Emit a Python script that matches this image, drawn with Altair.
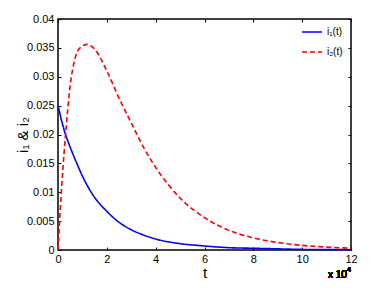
import altair as alt
import pandas as pd

# time in units of 1e4
t1 = [0, 0.25, 0.5, 0.75, 1, 1.5, 2, 2.5, 3, 3.5, 4, 5, 6, 7, 8, 9, 10, 11, 12]
i1 = [0.025, 0.0208, 0.0178, 0.0152, 0.0128, 0.0091, 0.0067, 0.0048, 0.0035,
      0.0026, 0.0019, 0.0011, 0.0007, 0.0004, 0.0003, 0.0002, 0.0001, 0.00007, 0.00005]

t2 = [0, 0.1, 0.2, 0.3, 0.5, 0.7, 0.9, 1.2, 1.5, 2, 2.5, 3, 3.5, 4, 4.5, 5, 6, 7,
      8, 9, 10, 11, 12]
i2 = [0, 0.0075, 0.014, 0.0195, 0.0285, 0.0332, 0.035, 0.0356, 0.0348, 0.031,
      0.0263, 0.022, 0.0178, 0.0143, 0.0114, 0.009, 0.0056, 0.0034, 0.0021,
      0.0013, 0.0008, 0.0005, 0.0003]

series = ["i\u2081(t)", "i\u2082(t)"]
x_ticks = [0, 2, 4, 6, 8, 10, 12]
y_ticks = [0, 0.005, 0.01, 0.015, 0.02, 0.025, 0.03, 0.035, 0.04]

df = pd.concat([
    pd.DataFrame({"t": t1, "v": i1, "s": series[0]}),
    pd.DataFrame({"t": t2, "v": i2, "s": series[1]}),
])

FONT = "Liberation Sans"
xs = alt.Scale(domain=[0, 12], nice=False, zero=False)
ys = alt.Scale(domain=[0, 0.04], nice=False)

legend = alt.Legend(title=None, orient="none", legendX=243, legendY=2,
                    symbolType="stroke", symbolSize=400, symbolStrokeWidth=1.6,
                    labelFontSize=10, labelFont=FONT, labelColor="black",
                    rowPadding=4, padding=0)

lines = alt.Chart(df).mark_line(strokeWidth=1.6, interpolate="monotone").encode(
    x=alt.X("t:Q", scale=xs, axis=alt.Axis(values=x_ticks, tickSize=0, domain=False, grid=False,
                                           labelFlush=False,
                                           title="t", labelFontSize=11, titleFontSize=15,
                                           titleFontWeight="normal", labelPadding=3, titlePadding=1,
                                           labelColor="black", titleColor="black", labelFont=FONT, titleFont=FONT)),
    y=alt.Y("v:Q", scale=ys, axis=alt.Axis(values=y_ticks, tickSize=0, domain=False, grid=False,
                                           labelFlush=False,
                                           title="i\u2081 & i\u2082", labelFontSize=11, titleFontSize=15,
                                           titleFontWeight="normal", labelPadding=4, titlePadding=-4,
                                           labelExpr="format(datum.value, '~g')",
                                           labelColor="black", titleColor="black", labelFont=FONT, titleFont=FONT)),
    color=alt.Color("s:N", scale=alt.Scale(domain=series, range=["#0000ff", "#ff0000"]), legend=legend),
    strokeDash=alt.StrokeDash("s:N", scale=alt.Scale(domain=series, range=[[1, 0], [5, 3]]), legend=legend),
)

tick_axis = dict(tickSize=3, offset=-3, labels=False, domain=False, grid=False, title=None,
                 tickColor="black", tickWidth=1)

ticks_bl = alt.Chart(df).mark_point(opacity=0).encode(
    x=alt.X("t:Q", scale=xs, axis=alt.Axis(values=x_ticks, orient="bottom", **tick_axis)),
    y=alt.Y("v:Q", scale=ys, axis=alt.Axis(values=y_ticks, orient="left", **tick_axis)),
)
ticks_tr = alt.Chart(df).mark_point(opacity=0).encode(
    x=alt.X("t:Q", scale=xs, axis=alt.Axis(values=x_ticks, orient="top", **tick_axis)),
    y=alt.Y("v:Q", scale=ys, axis=alt.Axis(values=y_ticks, orient="right", **tick_axis)),
)

note = alt.Chart(df).mark_text(text="x 10", fontSize=10, font=FONT, align="left", baseline="middle",
                               color="black").encode(x=alt.value(270), y=alt.value(256))
note4 = alt.Chart(df).mark_text(text="4", fontSize=7, font=FONT, align="left", baseline="middle",
                                color="black").encode(x=alt.value(289), y=alt.value(251))

chart = alt.layer(lines, ticks_bl, ticks_tr, note, note4).resolve_axis(
    x="independent", y="independent"
).properties(
    width=293, height=231,
    autosize=alt.AutoSizeParams(type="none"),
    padding={"left": 50, "top": 11, "right": 22, "bottom": 35},
).configure_view(stroke="black", strokeWidth=1.5)

chart.save("out.html", embed_options={"renderer": "svg", "actions": False})
